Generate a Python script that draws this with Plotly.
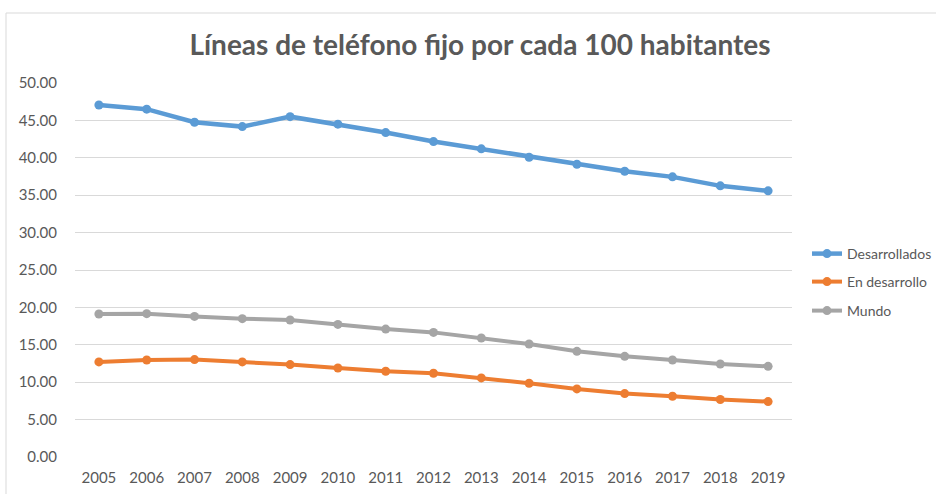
import plotly.graph_objects as go

years = [str(y) for y in range(2005, 2020)]
desarrollados = [47.06, 46.5, 44.75, 44.17, 45.5, 44.5, 43.37, 42.17, 41.2, 40.08, 39.14, 38.2, 37.45, 36.25, 35.58]
en_desarrollo = [12.71, 12.97, 13.02, 12.71, 12.35, 11.9, 11.46, 11.19, 10.57, 9.86, 9.1, 8.48, 8.12, 7.68, 7.41]
mundo = [19.12, 19.16, 18.8, 18.49, 18.32, 17.73, 17.1, 16.66, 15.91, 15.11, 14.13, 13.46, 12.97, 12.44, 12.12]
y_ticks = [0, 5, 10, 15, 20, 25, 30, 35, 40, 45, 50]

W, H = 936, 494
L, R, T, B = 75, 144, 83, 37
pw, ph = W - L - R, H - T - B

def px_x(x):
    return (x - L) / pw

def px_y(y):
    return (H - B - y) / ph

FONT = "Lato, Calibri, sans-serif"
series = [
    ("Desarrollados", desarrollados, "#5B9BD5", 4.5, "legend", 254),
    ("En desarrollo", en_desarrollo, "#ED7D31", 4, "legend2", 282),
    ("Mundo", mundo, "#A5A5A5", 4, "legend3", 311),
]

fig = go.Figure()
layout_legends = {}
for name, vals, color, lw, lg, ly in series:
    fig.add_trace(go.Scatter(
        x=years, y=vals, name=name, mode="lines+markers",
        line=dict(color=color, width=lw),
        marker=dict(color=color, size=9),
        legend=lg,
    ))
    layout_legends[lg] = dict(
        x=px_x(807), y=px_y(ly), xanchor="left", yanchor="middle",
        font=dict(family=FONT, size=14, color="#595959"),
        bgcolor="rgba(0,0,0,0)", borderwidth=0,
        itemwidth=30,
    )

fig.update_layout(
    width=W, height=H,
    margin=dict(l=L, r=R, t=T, b=B, autoexpand=False),
    paper_bgcolor="white", plot_bgcolor="white",
    showlegend=True,
    title=dict(
        text="<b>Líneas de teléfono fijo por cada 100 habitantes</b>",
        x=480 / W, xanchor="center",
        y=1 - 45 / H, yanchor="middle",
        font=dict(family=FONT, size=28, color="#595959"),
    ),
    xaxis=dict(
        type="category", range=[-0.5, len(years) - 0.5],
        showgrid=False, showline=False, zeroline=False,
        tickfont=dict(family=FONT, size=15, color="#595959"),
        ticks="", ticklabelstandoff=10,
    ),
    yaxis=dict(
        range=[0, 50], tickvals=y_ticks,
        ticktext=[f"{v:.2f}" for v in y_ticks],
        showgrid=True, gridcolor="#D9D9D9", gridwidth=1,
        zeroline=False, showline=False, ticks="",
        tickfont=dict(family=FONT, size=15, color="#595959"),
        ticklabelstandoff=17,
    ),
    shapes=[dict(
        type="rect", xref="paper", yref="paper",
        x0=px_x(6), x1=px_x(945), y0=px_y(505), y1=px_y(13),
        line=dict(color="#D9D9D9", width=1), fillcolor="rgba(0,0,0,0)",
        layer="below",
    )],
    **layout_legends,
)

fig.write_html(
    "out.html",
    config={"displayModeBar": False},
    post_script="document.body.style.margin='0';document.body.style.overflow='hidden';",
)
